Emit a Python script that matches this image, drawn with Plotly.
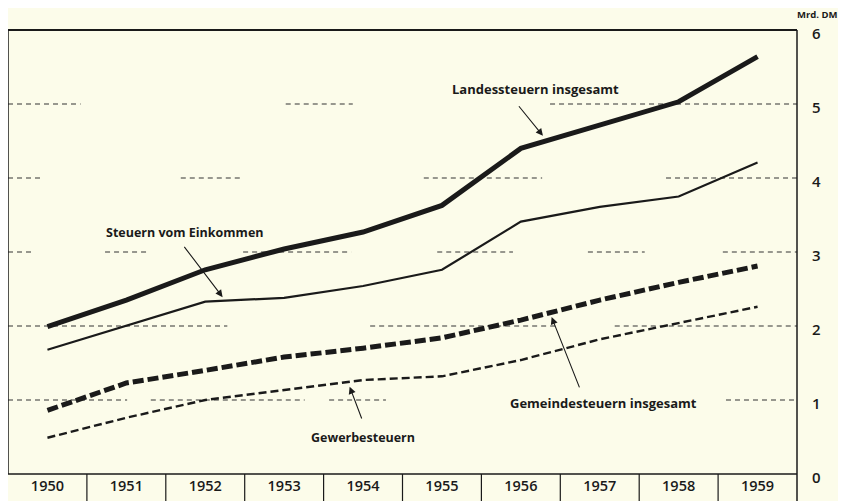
import plotly.graph_objects as go

years = [1950, 1951, 1952, 1953, 1954, 1955, 1956, 1957, 1958, 1959]
landessteuern = [1.99, 2.35, 2.76, 3.04, 3.27, 3.63, 4.40, 4.72, 5.03, 5.64]
einkommen = [1.68, 2.01, 2.33, 2.38, 2.54, 2.76, 3.41, 3.61, 3.75, 4.21]
gemeindesteuern = [0.86, 1.23, 1.40, 1.58, 1.70, 1.84, 2.08, 2.35, 2.59, 2.81]
gewerbesteuern = [0.49, 0.76, 1.00, 1.13, 1.27, 1.32, 1.54, 1.82, 2.04, 2.26]
y_ticks = [0, 1, 2, 3, 4, 5, 6]
year_labels = [str(y) for y in years]

# broken dashed gridline segments (in year units) per level
grid_segments = {
    5: [(1949.5, 1950.42), (1953.02, 1953.87), (1956.37, 1959.5)],
    4: [(1949.5, 1949.94), (1951.69, 1952.48), (1954.77, 1956.27), (1957.84, 1959.5)],
    3: [(1949.5, 1949.84), (1950.73, 1951.25), (1952.48, 1953.85), (1954.94, 1955.9),
        (1956.85, 1957.57), (1958.56, 1959.5)],
    2: [(1949.5, 1952.28), (1954.09, 1956.45), (1957.19, 1959.5)],
    1: [(1949.5, 1951.01), (1951.31, 1953.26), (1953.57, 1954.29), (1958.6, 1959.5)],
}

INK = "#1a1a1a"
BG = "#fcfcea"
FONT = "Open Sans"

fig = go.Figure()

shapes = []
for lvl, segs in grid_segments.items():
    for x0, x1 in segs:
        shapes.append(dict(type="line", xref="x", yref="y", x0=x0, x1=x1, y0=lvl, y1=lvl,
                           line=dict(color="#333333", width=1, dash="5px,4px"), layer="below"))

fig.add_trace(go.Scatter(x=years, y=landessteuern, mode="lines",
                         line=dict(color=INK, width=5), name="Landessteuern insgesamt"))
fig.add_trace(go.Scatter(x=years, y=einkommen, mode="lines",
                         line=dict(color=INK, width=2.2), name="Steuern vom Einkommen"))
fig.add_trace(go.Scatter(x=years, y=gemeindesteuern, mode="lines",
                         line=dict(color=INK, width=5, dash="11px,4px"), name="Gemeindesteuern insgesamt"))
fig.add_trace(go.Scatter(x=years, y=gewerbesteuern, mode="lines",
                         line=dict(color=INK, width=2.4, dash="8px,4px"), name="Gewerbesteuern"))

# frame
shapes.append(dict(type="line", xref="paper", yref="paper", x0=0, x1=1, y0=1, y1=1,
                   line=dict(color=INK, width=2)))
shapes.append(dict(type="line", xref="paper", yref="paper", x0=0, x1=0, y0=0, y1=1,
                   line=dict(color=INK, width=1.5)))
shapes.append(dict(type="line", xref="paper", yref="paper", x0=1, x1=1, y0=-0.07, y1=1,
                   line=dict(color=INK, width=1.5)))
shapes.append(dict(type="line", xref="paper", yref="paper", x0=0, x1=1, y0=0, y1=0,
                   line=dict(color=INK, width=1.5)))
# year separators
for y in years[:-1]:
    shapes.append(dict(type="line", xref="x", yref="paper", x0=y + 0.5, x1=y + 0.5,
                       y0=-0.07, y1=0, line=dict(color=INK, width=1.2)))

annotations = []
labels = [
    ("Landessteuern insgesamt", 1956.18, 5.20, True, (1955.96, 4.99), (1956.28, 4.57)),
    ("Steuern vom Einkommen", 1951.74, 3.27, False, (1951.72, 3.09), (1952.22, 2.39)),
    ("Gemeindesteuern insgesamt", 1957.05, 0.96, True, (1956.75, 1.15), (1956.39, 2.12)),
    ("Gewerbesteuern", 1954.0, 0.50, False, (1953.99, 0.73), (1953.83, 1.18)),
]
for text, tx, ty, bold, tail, head in labels:
    annotations.append(dict(x=tx, y=ty, xref="x", yref="y", text=f"<b>{text}</b>",
                            showarrow=False,
                            font=dict(family=FONT, size=13 if bold else 12.5, color=INK,
                                      weight=800 if bold else 600)))
    annotations.append(dict(x=head[0], y=head[1], ax=tail[0], ay=tail[1], xref="x", yref="y",
                            axref="x", ayref="y", text="", showarrow=True, arrowhead=2,
                            arrowsize=1.3, arrowwidth=1.1, arrowcolor=INK, standoff=0))

annotations.append(dict(x=1, y=1, xref="paper", yref="paper", xanchor="center", yanchor="bottom",
                        xshift=20, yshift=7, text="<b>Mrd. DM</b>", showarrow=False,
                        font=dict(family=FONT, size=9.5, color=INK, weight=600)))

# page body has an 8px margin, so the figure is sized to fill the rest of the window
fig.update_layout(
    width=838, height=493,
    margin=dict(l=0, r=49, t=22, b=27),
    paper_bgcolor=BG, plot_bgcolor=BG,
    showlegend=False,
    shapes=shapes, annotations=annotations,
    xaxis=dict(range=[1949.5, 1959.5], tickvals=years, ticktext=year_labels,
               showgrid=False, zeroline=False, showline=False, ticks="", automargin=False,
               tickfont=dict(family=FONT, size=14.5, color=INK, weight=600), ticklabelstandoff=1),
    yaxis=dict(range=[0, 6], side="right", tickvals=y_ticks, ticktext=[str(v) for v in y_ticks],
               showgrid=False, zeroline=False, showline=False, ticks="", automargin=False,
               tickfont=dict(family=FONT, size=15, color=INK, weight=600), ticklabelstandoff=14,
               ticklabelshift=4),
)

fig.write_html("out.html")
